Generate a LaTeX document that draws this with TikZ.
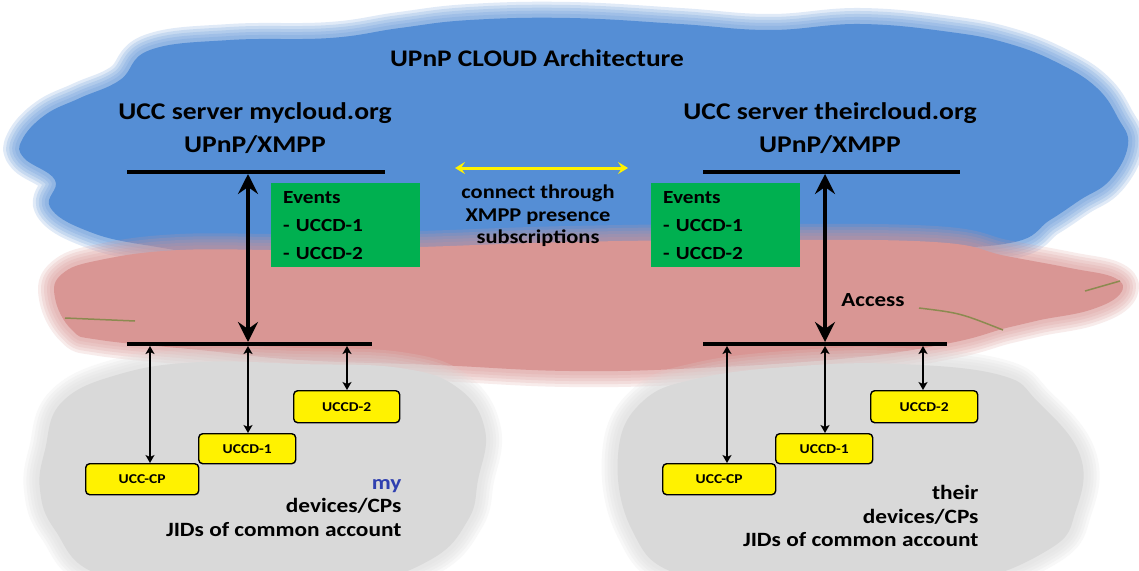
\documentclass[tikz,border=0pt]{standalone}
\usepackage{fontspec}
\setmainfont{Carlito}[FakeStretch=1.15]
\usetikzlibrary{arrows.meta}

\definecolor{cloudblue}{RGB}{85,142,213}
\definecolor{cloudpink}{RGB}{217,150,148}
\definecolor{cloudgray}{RGB}{217,217,217}
\definecolor{eventgreen}{RGB}{0,176,80}
\definecolor{myblue}{RGB}{48,64,176}
\definecolor{olivegreen}{RGB}{140,138,80}

\tikzstyle{bar} = [draw, line width=4pt]
\tikzstyle{access} = [draw, line width=3.5pt, {Stealth[length=20pt,width=20pt,inset=7pt]}-{Stealth[length=20pt,width=20pt,inset=7pt]}]
\tikzstyle{link} = [draw, line width=1.6pt, {Stealth[length=8pt,width=9pt,inset=2pt]}-{Stealth[length=8pt,width=9pt,inset=2pt]}]
\tikzstyle{presence} = [draw=yellow, line width=3pt, {Stealth[length=10pt,width=12pt,inset=4pt]}-{Stealth[length=10pt,width=12pt,inset=4pt]}]
\tikzstyle{device} = [draw, line width=1.4pt, fill=yellow, rounded corners=4pt, anchor=north west, inner sep=0pt, font=\fontsize{13.5}{13.5}\selectfont\bfseries]
\tikzstyle{events} = [fill=eventgreen, minimum width=149pt, minimum height=84pt, text width=125pt, align=left, anchor=north west, font=\fontsize{18.5}{28}\selectfont\bfseries]
\tikzstyle{server} = [align=center, font=\fontsize{24}{33}\selectfont\bfseries]
\tikzstyle{owner} = [align=right, anchor=east, font=\fontsize{20.3}{23.5}\selectfont\bfseries]
\tikzstyle{scribble} = [draw=olivegreen, line width=1.5pt]

% soft edged cloud
\newcommand{\softcloud}[2]{%
  \foreach \w in {32,26,20,14,8}{%
    \draw[#1, line width=\w pt, opacity=0.18, line join=round] plot[smooth cycle, tension=0.7] coordinates {#2};}
  \fill[#1] plot[smooth cycle, tension=0.7] coordinates {#2};}

\begin{document}
\begin{tikzpicture}[x=1pt,y=-1pt]
\clip (0,0) rectangle (1139,570);
\fill[white] (0,0) rectangle (1139,570);

%clouds
\softcloud{cloudblue}{(120,80) (150,50) (230,40) (330,38) (400,28) (470,20) (570,18) (680,24) (770,30) (860,24) (950,32) (1010,44) (1060,64) (1097,88) (1118,118) (1128,145) (1110,180) (1080,200) (1050,220) (1010,243) (900,248) (700,248) (450,253) (250,256) (145,245) (85,230) (50,207) (55,180) (24,158) (22,140) (45,115) (80,98)}
\softcloud{cloudpink}{(55,298) (62,274) (100,260) (180,250) (300,250) (420,247) (570,242) (750,240) (934,242) (1006,256) (1070,268) (1115,278) (1120,294) (1090,310) (1040,320) (1006,328) (950,343) (850,358) (700,368) (570,371) (436,365) (300,360) (200,350) (100,340) (72,330)}
\softcloud{cloudgray}{(45,450) (62,402) (120,374) (200,362) (300,364) (400,368) (458,388) (485,430) (478,480) (468,520) (430,560) (350,585) (220,590) (100,575) (55,530) (40,490)}
\softcloud{cloudgray}{(618,455) (642,402) (700,378) (800,366) (900,364) (1000,375) (1038,402) (1080,455) (1076,510) (1048,550) (950,585) (800,590) (680,575) (632,530)}

\path[scribble] (65,318) -- (135,321);
\path[scribble] (919,308) .. controls (960,313) .. (1003,330);
\path[scribble] (1085,291) -- (1120,281);

%titles
\node (title) at (537,58) [font=\fontsize{23.8}{23.8}\selectfont\bfseries] {UPnP CLOUD Architecture};
\node (lserver) at (255,128) [server] {UCC server mycloud.org\\UPnP/XMPP};
\node (rserver) at (830,128) [server] {UCC server theircloud.org\\UPnP/XMPP};

%bars
\coordinate (ltopw) at (127,172);
\coordinate (ltope) at (385,172);
\coordinate (lbotw) at (127,344);
\coordinate (lbote) at (372,344);
\coordinate (rtopw) at (703,172);
\coordinate (rtope) at (960,172);
\coordinate (rbotw) at (703,344);
\coordinate (rbote) at (947,344);
\path[bar] (ltopw) -- (ltope);
\path[bar] (lbotw) -- (lbote);
\path[bar] (rtopw) -- (rtope);
\path[bar] (rbotw) -- (rbote);

%access arrows
\coordinate (laccA) at (248,174);
\coordinate (laccB) at (248,342);
\coordinate (raccA) at (825,174);
\coordinate (raccB) at (825,342);
\path[access] (laccA) -- (laccB);
\path[access] (raccA) -- (raccB);
\node (access) at (873,300) [font=\fontsize{20}{20}\selectfont\bfseries] {Access};

%events
\node (levents) at (271,183) [events] {Events\\- UCCD-1\\- UCCD-2};
\node (revents) at (651,183) [events] {Events\\- UCCD-1\\- UCCD-2};

%presence
\coordinate (presL) at (455,168);
\coordinate (presR) at (628,168);
\path[presence] (presL) -- (presR);
\node (connect) at (538,216) [align=center, font=\fontsize{19.5}{22.5}\selectfont\bfseries] {connect through\\XMPP presence\\subscriptions};

%devices left
\node (ld2) at (293,390) [device, minimum width=106pt, minimum height=32pt] {UCCD-2};
\node (ld1) at (198,433) [device, minimum width=97pt, minimum height=30pt] {UCCD-1};
\node (lcp) at (85,463) [device, minimum width=113pt, minimum height=31pt] {UCC-CP};
%devices right
\node (rd2) at (870,390) [device, minimum width=107pt, minimum height=32pt] {UCCD-2};
\node (rd1) at (775,433) [device, minimum width=97pt, minimum height=30pt] {UCCD-1};
\node (rcp) at (662,463) [device, minimum width=113pt, minimum height=31pt] {UCC-CP};

%links
\coordinate (llcp) at (150,346);
\coordinate (lld1) at (248,346);
\coordinate (lld2) at (347,346);
\coordinate (rlcp) at (727,346);
\coordinate (rld1) at (825,346);
\coordinate (rld2) at (923,346);
\path[link] (llcp) -- (llcp |- lcp.north);
\path[link] (lld1) -- (lld1 |- ld1.north);
\path[link] (lld2) -- (lld2 |- ld2.north);
\path[link] (rlcp) -- (rlcp |- rcp.north);
\path[link] (rld1) -- (rld1 |- rd1.north);
\path[link] (rld2) -- (rld2 |- rd2.north);

%owners
\node (lowner) at (405,508) [owner] {{\color{myblue}my}\\devices/CPs\\JIDs of common account};
\node (rowner) at (982,516) [owner] {their\\devices/CPs\\JIDs of common account};
\end{tikzpicture}
\end{document}
